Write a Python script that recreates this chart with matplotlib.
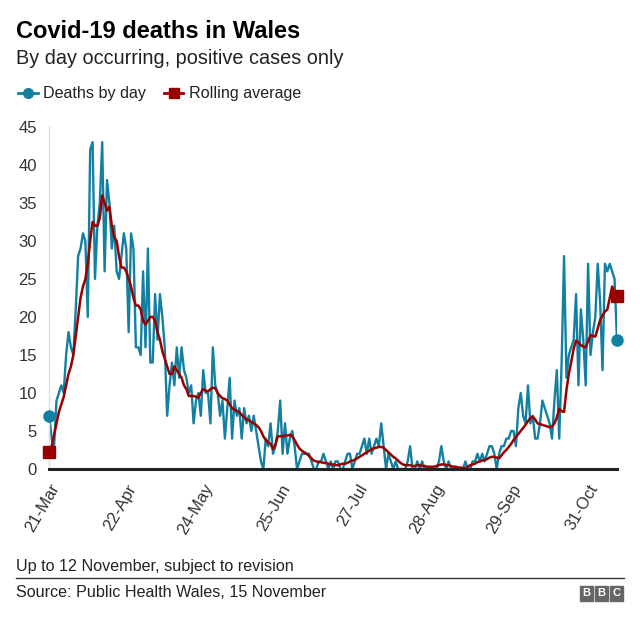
import numpy as np
import pandas as pd
import matplotlib
matplotlib.use('Agg')
import matplotlib.pyplot as plt
from matplotlib.lines import Line2D
from matplotlib.patches import Rectangle

plt.rcParams['font.family'] = ['Liberation Sans', 'DejaVu Sans']

start_date = '2020-03-21'

# daily deaths, 21 Mar to 12 Nov
deaths = [7, 4, 3, 9, 10, 11, 10, 15, 18, 16,
          15, 21, 28, 29, 31, 30, 20, 42, 43, 25,
          32, 35, 43, 26, 38, 35, 29, 32, 26, 25,
          28, 31, 29, 18, 31, 29, 16, 16, 15, 26,
          16, 29, 14, 14, 23, 17, 23, 20, 16, 7,
          11, 14, 11, 16, 12, 16, 13, 12, 10, 11,
          6, 9, 10, 7, 13, 10, 10, 6, 16, 11,
          10, 7, 9, 4, 8, 12, 4, 9, 7, 8,
          4, 8, 6, 7, 5, 7, 5, 3, 1, 0,
          4, 3, 6, 2, 3, 5, 9, 2, 6, 2,
          4, 5, 3, 0, 1, 2, 2, 2, 2, 1,
          0, 0, 1, 1, 2, 1, 0, 1, 0, 1,
          1, 0, 0, 1, 2, 2, 0, 1, 2, 2,
          3, 4, 2, 4, 2, 3, 4, 3, 6, 3,
          0, 2, 1, 0, 1, 0, 0, 0, 0, 1,
          3, 0, 0, 1, 0, 1, 0, 0, 0, 0,
          0, 0, 1, 3, 1, 0, 1, 0, 0, 0,
          0, 0, 0, 1, 0, 0, 1, 1, 2, 1,
          2, 1, 2, 3, 3, 2, 0, 2, 3, 3,
          4, 4, 5, 5, 3, 8, 10, 7, 6, 11,
          6, 7, 4, 4, 6, 9, 8, 7, 6, 4,
          9, 13, 4, 14, 28, 12, 15, 16, 17, 23,
          11, 21, 17, 11, 27, 15, 18, 20, 27, 22,
          13, 27, 26, 27, 26, 25, 17]

# rolling average as drawn
rolling = [2.3, 3.0, 4.5, 6.0, 7.5, 8.5, 9.5, 11.0, 12.5, 13.5,
           15.0, 17.5, 20.0, 22.5, 24.0, 25.0, 27.0, 30.0, 32.5, 32.0,
           32.0, 33.0, 36.0, 35.0, 34.0, 34.5, 32.0, 30.5, 30.0, 28.0,
           26.5, 26.5, 26.0, 25.0, 24.0, 22.5, 21.5, 21.5, 21.0, 19.5,
           19.0, 19.5, 20.0, 20.0, 19.5, 18.0, 17.0, 15.5, 14.5, 13.5,
           12.5, 12.5, 13.5, 13.0, 12.5, 12.0, 11.0, 10.5, 9.6, 9.6,
           9.6, 9.5, 9.4, 10.0, 10.5, 10.3, 10.2, 10.5, 10.7, 10.6,
           10.0, 9.6, 9.3, 9.2, 9.0, 8.5, 8.0, 7.8, 7.6, 7.5,
           7.1, 6.8, 6.5, 6.4, 6.2, 6.0, 5.8, 5.5, 5.0, 4.3,
           3.8, 3.5, 3.3, 2.6, 3.2, 4.3, 4.3, 4.3, 4.4, 4.4,
           4.5, 4.3, 3.8, 3.2, 2.7, 2.4, 2.2, 2.0, 1.7, 1.4,
           1.1, 1.0, 0.9, 0.9, 0.8, 0.8, 0.7, 0.6, 0.6, 0.5,
           0.5, 0.6, 0.7, 0.7, 0.8, 1.0, 1.1, 1.2, 1.4, 1.6,
           1.8, 2.0, 2.2, 2.4, 2.6, 2.7, 2.8, 2.9, 2.9, 2.8,
           2.5, 2.2, 1.9, 1.6, 1.4, 1.1, 0.8, 0.6, 0.5, 0.5,
           0.5, 0.4, 0.4, 0.5, 0.5, 0.4, 0.4, 0.3, 0.3, 0.3,
           0.3, 0.4, 0.5, 0.6, 0.6, 0.5, 0.5, 0.4, 0.3, 0.3,
           0.2, 0.2, 0.1, 0.1, 0.3, 0.5, 0.6, 0.7, 0.9, 1.0,
           1.1, 1.2, 1.3, 1.5, 1.6, 1.6, 1.5, 1.4, 1.8, 2.2,
           2.5, 2.9, 3.3, 3.8, 4.2, 4.6, 5.0, 5.4, 5.8, 6.3,
           6.7, 6.9, 6.5, 6.0, 5.9, 5.8, 5.7, 5.6, 5.5, 5.6,
           6.0, 6.8, 7.9, 7.6, 7.5, 10.4, 12.5, 14.1, 15.8, 16.9,
           16.6, 16.3, 16.1, 16.0, 16.8, 17.6, 17.5, 17.4, 18.5, 19.6,
           20.2, 20.7, 21.0, 22.5, 24.0, 23.3, 22.7]

tick_labels = ['21-Mar', '22-Apr', '24-May', '25-Jun', '27-Jul', '28-Aug', '29-Sep', '31-Oct']

blue = '#1380A1'
red = '#990000'
text_col = '#222222'

days = pd.date_range(start_date, periods=len(deaths), freq='D')
tick_dates = pd.to_datetime([t + '-2020' for t in tick_labels], format='%d-%b-%Y')
deaths = np.array(deaths)
rolling = np.array(rolling)

fig = plt.figure(figsize=(6.4, 6.22), dpi=100)
ax = fig.add_axes([0.077, 0.246, 0.887, 0.55])

ax.plot(days, deaths, color=blue, lw=1.7, zorder=2)
ax.plot(days, rolling, color=red, lw=1.8, zorder=3)
ax.plot(days[[0, -1]], deaths[[0, -1]], 'o', color=blue, ms=8, clip_on=False, zorder=4)
ax.plot(days[[0, -1]], rolling[[0, -1]], 's', color=red, ms=8, clip_on=False, zorder=5)

ax.set_xlim(days[0], days[-1])
ax.set_ylim(0, 45)
ax.set_yticks(range(0, 46, 5))
ax.set_xticks(tick_dates)
ax.set_xticklabels(tick_labels, rotation=60, ha='right', va='top', rotation_mode='anchor')
ax.tick_params(axis='both', length=0, labelsize=12, colors='#333333')
ax.tick_params(axis='y', pad=9)
ax.tick_params(axis='x', pad=9)

for s in ['top', 'right']:
    ax.spines[s].set_visible(False)
ax.spines['left'].set_color('#dddddd')
ax.spines['left'].set_linewidth(1)
ax.spines['bottom'].set_color('#222222')
ax.spines['bottom'].set_linewidth(2.2)
ax.spines['bottom'].set_zorder(6)

# title block
fig.text(0.025, 0.968, 'Covid-19 deaths in Wales', fontsize=17, fontweight='bold',
         color='black', va='top')
fig.text(0.025, 0.922, 'By day occurring, positive cases only', fontsize=14.3,
         color=text_col, va='top')

handles = [Line2D([], [], color=blue, lw=2, marker='o', ms=7),
           Line2D([], [], color=red, lw=2, marker='s', ms=7)]
fig.legend(handles, ['Deaths by day', 'Rolling average'], loc='center left',
           bbox_to_anchor=(0.006, 0.849), ncol=2, frameon=False, fontsize=11.6,
           handlelength=1.2, handletextpad=0.35, columnspacing=1.1,
           labelcolor=text_col)

# footer
fig.text(0.025, 0.09, 'Up to 12 November, subject to revision', fontsize=11.6,
         color=text_col, va='center')
fig.add_artist(Line2D([0.025, 0.975], [0.071, 0.071], color='#333333', lw=1))
fig.text(0.025, 0.048, 'Source: Public Health Wales, 15 November', fontsize=11.6,
         color=text_col, va='center')
for i, letter in enumerate('BBC'):
    x0 = 0.906 + i * 0.0235
    fig.add_artist(Rectangle((x0, 0.034), 0.021, 0.024, color='#666666',
                             transform=fig.transFigure))
    fig.text(x0 + 0.0105, 0.046, letter, fontsize=8, fontweight='bold',
             color='white', ha='center', va='center')

fig.savefig('out.png', dpi=100, facecolor='white')
